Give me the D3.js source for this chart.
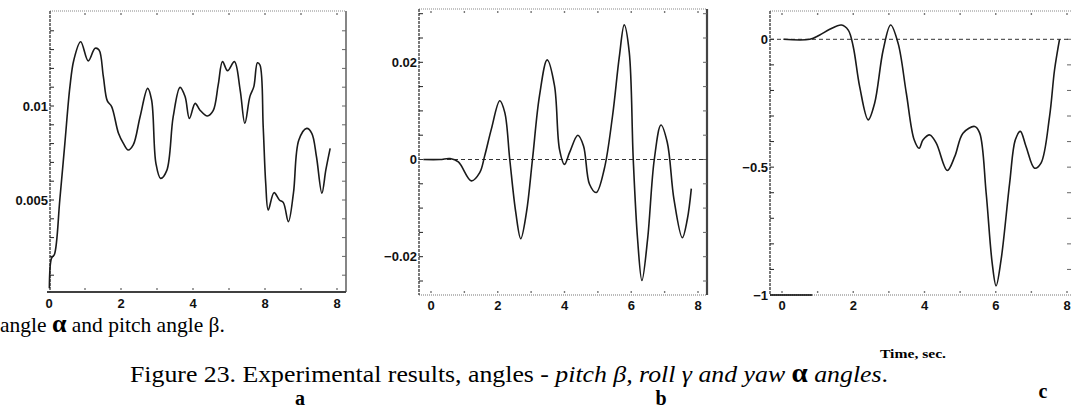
<!DOCTYPE html>
<html><head><meta charset="utf-8">
<script src="https://cdn.jsdelivr.net/npm/d3@7"></script>
<style>
html,body{margin:0;padding:0;background:#fff;}
svg{display:block;}
.tick-lbl{font-family:"Liberation Sans",Arial,sans-serif;font-weight:bold;font-size:13px;fill:#111;}
.serif{font-family:"Liberation Serif","Times New Roman",serif;fill:#000;}
</style>
</head><body>
<svg id="chart" width="1071" height="413"></svg>
<script>
// ---------- data ----------
const timeA = [0.01,0.07,0.15,0.3,0.44,0.58,0.69,0.88,1.09,1.28,1.39,1.51,1.62,1.74,1.93,2.07,2.2,2.34,2.53,2.74,2.85,2.97,3.1,3.27,3.45,3.64,3.78,3.9,4.06,4.19,4.4,4.56,4.7,4.82,4.96,5.15,5.31,5.44,5.58,5.69,5.79,5.86,5.95,6.02,6.09,6.25,6.4,6.51,6.65,6.79,6.94,7.16,7.3,7.43,7.58,7.69,7.81];
const pitchA = [0.0003,0.0019,0.0021,0.005,0.008,0.011,0.01245,0.01342,0.0124,0.01307,0.01298,0.01156,0.01027,0.00997,0.00855,0.0080,0.00766,0.00793,0.00943,0.01094,0.01032,0.00695,0.00615,0.00656,0.00943,0.01099,0.0105,0.00934,0.01014,0.00979,0.00947,0.00975,0.01112,0.01236,0.01188,0.01236,0.01085,0.00908,0.0105,0.01103,0.0123,0.01218,0.0089,0.00589,0.00447,0.00539,0.005,0.00486,0.00385,0.00536,0.00819,0.00881,0.00855,0.0073,0.00536,0.0066,0.00775];

const timeB = [-0.23,0.27,0.57,0.82,1.21,1.46,1.61,1.81,2.06,2.21,2.36,2.54,2.69,2.86,3.04,3.25,3.48,3.70,3.85,4.0,4.15,4.40,4.57,4.75,4.95,5.19,5.44,5.64,5.79,5.94,6.06,6.19,6.32,6.49,6.69,6.89,7.08,7.28,7.53,7.68,7.8];
const rollB = [0,0,0.0002,-0.0005,-0.0044,-0.0027,0.0008,0.0063,0.0121,0.0097,0,-0.0109,-0.0163,-0.0109,0,0.0131,0.0205,0.0152,0.0021,-0.001,0.0014,0.005,0.0028,-0.0051,-0.0068,-0.002,0.009,0.021,0.0277,0.0221,0,-0.0164,-0.0249,-0.0164,0,0.0071,0.0035,-0.0082,-0.0161,-0.0123,-0.006];

const timeC = [0.04,0.78,1.06,1.34,1.67,1.86,2.0,2.18,2.42,2.6,2.84,3.05,3.26,3.49,3.71,3.85,3.96,4.15,4.33,4.64,4.85,5.08,5.41,5.55,5.73,5.9,6.01,6.15,6.39,6.55,6.69,6.85,7.09,7.27,7.51,7.65,7.79];
const yawC = [0,0,0.017,0.039,0.056,0.036,-0.029,-0.185,-0.315,-0.25,-0.042,0.056,-0.016,-0.211,-0.393,-0.426,-0.393,-0.374,-0.406,-0.513,-0.458,-0.367,-0.341,-0.367,-0.6,-0.875,-0.964,-0.862,-0.5625,-0.393,-0.36,-0.419,-0.504,-0.484,-0.302,-0.12,0];

const xTicks = [0,2,4,6,8];
const xTickLabelsA = ["0","2","4","8","8"];
const xTickLabelsB = ["0","2","4","6","8"];
const xTickLabelsC = ["0","2","4","6","8"];
const yTicksA = [0.005,0.01];
const yTickLabelsA = ["0.005","0.01"];
const yTicksB = [-0.02,0,0.02];
const yTickLabelsB = ["\u22120.02","0","0.02"];
const yTicksC = [-1,-0.5,0];
const yTickLabelsC = ["\u22121","\u22120.5","0"];

// ---------- drawing ----------
const svg = d3.select("#chart");
const lineCol = "#1a1a1a";

function panel(o){
  const g = svg.append("g");
  const x = d3.scaleLinear().domain([0,8]).range(o.xr);
  const y = d3.scaleLinear().domain(o.yd).range(o.yr);
  const L=o.frame[0], T=o.frame[1], R=o.frame[2], B=o.frame[3];
  g.append("line").attr("x1",L).attr("x2",R).attr("y1",T).attr("y2",T)
    .attr("stroke","#888").attr("stroke-width",1.2).attr("stroke-dasharray","1,1");
  if(o.bottomSolid){
    g.append("line").attr("x1",L-3).attr("x2",R).attr("y1",B).attr("y2",B)
      .attr("stroke","#000").attr("stroke-width",1.5);
  } else {
    g.append("line").attr("x1",L).attr("x2",R).attr("y1",B).attr("y2",B)
      .attr("stroke","#777").attr("stroke-width",1.2).attr("stroke-dasharray","1,1");
    if(o.bottomSeg){
      g.append("line").attr("x1",L).attr("x2",x(o.bottomSeg)).attr("y1",B).attr("y2",B)
        .attr("stroke","#000").attr("stroke-width",1.6);
    }
  }
  g.append("line").attr("x1",L).attr("x2",L).attr("y1",T).attr("y2",B)
    .attr("stroke","#333").attr("stroke-width",1.3).attr("stroke-dasharray","3,1");
  if(o.rightBorder){
    g.append("line").attr("x1",R).attr("x2",R).attr("y1",T).attr("y2",B)
      .attr("stroke","#444").attr("stroke-width",o.rightW||1.3);
  }
  o.minor.forEach(v=>{
    g.append("line").attr("x1",L).attr("x2",L+4).attr("y1",y(v)).attr("y2",y(v))
      .attr("stroke","#222").attr("stroke-width",1);
    g.append("line").attr("x1",R).attr("x2",R-4).attr("y1",y(v)).attr("y2",y(v))
      .attr("stroke","#666").attr("stroke-width",1);
  });
  d3.range(0,9).forEach(t=>{
    if(x(t)>L+2 && x(t)<R-2){
      g.append("rect").attr("x",x(t)-0.7).attr("y",T+2).attr("width",1.4).attr("height",2).attr("fill","#777");
      g.append("rect").attr("x",x(t)-0.7).attr("y",B-4).attr("width",1.4).attr("height",2).attr("fill","#777");
    }
  });
  if(o.zeroLine){
    g.append("line").attr("x1",L).attr("x2",R).attr("y1",y(0)).attr("y2",y(0))
      .attr("stroke","#333").attr("stroke-width",1).attr("stroke-dasharray","4,3");
  }
  const line = d3.line().x(d=>x(d[0])).y(d=>y(d[1])).curve(d3.curveCatmullRom.alpha(0.5));
  g.append("path").datum(o.t.map((t,i)=>[t,o.v[i]])).attr("d",line)
    .attr("fill","none").attr("stroke",lineCol).attr("stroke-width",1.6).attr("stroke-linejoin","round");
  o.yt.forEach((v,i)=>{
    g.append("text").attr("class","tick-lbl").attr("x",L-2).attr("y",y(v)).attr("dy","0.36em")
      .attr("text-anchor","end").text(o.ytl[i]);
  });
  xTicks.forEach((v,i)=>{
    g.append("text").attr("class","tick-lbl").attr("x",x(v)).attr("y",o.xly)
      .attr("text-anchor","middle").text(o.xtl[i]);
  });
}

panel({xr:[49,337], yd:[0,0.015], yr:[294,12], frame:[50,11,346,292],
  bottomSolid:true, rightBorder:true, minor:d3.range(1,15).map(k=>k*0.001),
  t:timeA, v:pitchA, yt:yTicksA, ytl:yTickLabelsA, xtl:xTickLabelsA, xly:308});

panel({xr:[431,698], yd:[-0.02,0.02], yr:[256.7,62.3], frame:[419,9,707,295],
  bottomSolid:false, rightBorder:true, rightW:2.2, zeroLine:true,
  minor:d3.range(-5,7).map(k=>k*0.005),
  t:timeB, v:rollB, yt:yTicksB, ytl:yTickLabelsB, xtl:xTickLabelsB, xly:310});

panel({xr:[782,1067], yd:[-1,0], yr:[295,39.3], frame:[770,11,1071,295],
  bottomSolid:false, bottomSeg:0.85, rightBorder:false, zeroLine:true,
  minor:d3.range(-9,1).map(k=>k*0.1),
  t:timeC, v:yawC, yt:yTicksC, ytl:yTickLabelsC, xtl:xTickLabelsC, xly:310});

// texts
svg.append("text").attr("class","serif").attr("x",880).attr("y",358)
  .attr("font-size",13).attr("font-weight","bold")
  .attr("textLength",66).attr("lengthAdjust","spacingAndGlyphs").text("Time, sec.");

const t1 = svg.append("text").attr("class","serif").attr("x",0).attr("y",332).attr("font-size",21.5);
t1.append("tspan").text("angle ");
t1.append("tspan").attr("font-weight","bold").attr("font-size",26).text("\u03b1");
t1.append("tspan").text(" and pitch angle \u03b2.");

const cap = svg.append("text").attr("class","serif").attr("x",130).attr("y",382).attr("font-size",24)
  .attr("textLength",758).attr("lengthAdjust","spacingAndGlyphs");
cap.append("tspan").text("Figure 23. Experimental results, angles - ");
cap.append("tspan").attr("font-style","italic").text("pitch \u03b2, roll \u03b3 and yaw ");
cap.append("tspan").attr("font-weight","bold").attr("font-size",27).text("\u03b1");
cap.append("tspan").attr("font-style","italic").text(" angles");
cap.append("tspan").text(".");

svg.append("text").attr("class","serif").attr("x",300).attr("y",405).attr("text-anchor","middle")
  .attr("font-size",20).attr("font-weight","bold").text("a");
svg.append("text").attr("class","serif").attr("x",661).attr("y",405).attr("text-anchor","middle")
  .attr("font-size",20).attr("font-weight","bold").text("b");
svg.append("text").attr("class","serif").attr("x",1043).attr("y",398).attr("text-anchor","middle")
  .attr("font-size",20).attr("font-weight","bold").text("c");
</script>
</body></html>
